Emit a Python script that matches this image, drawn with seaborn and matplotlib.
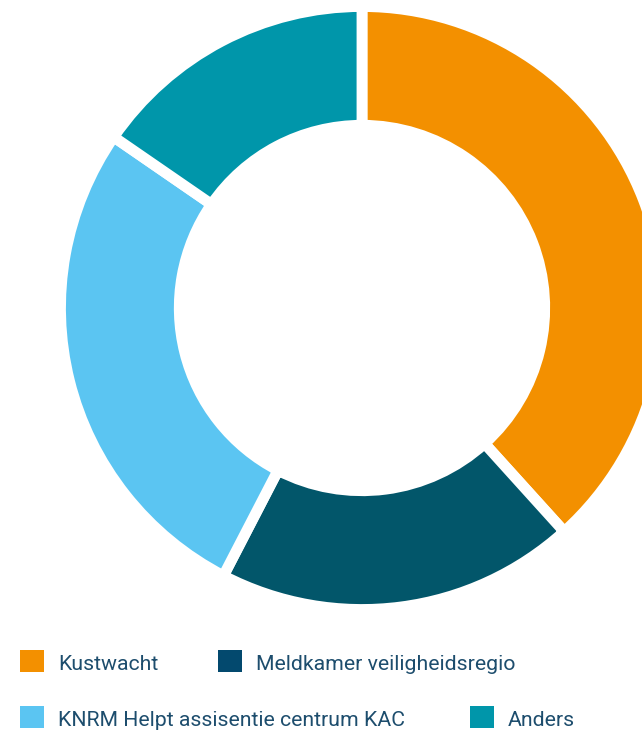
import matplotlib.pyplot as plt
import seaborn as sns
from matplotlib.patches import Rectangle

# data
labels = ['Kustwacht', 'Meldkamer veiligheidsregio',
          'KNRM Helpt assisentie centrum KAC', 'Anders']
values = [38.3, 19.3, 27.0, 15.4]
colors = ['#f39000', '#02566a', '#5bc5f2', '#0096aa']
legend_colors = ['#f39000', '#03496e', '#5bc5f2', '#0096aa']

W, H = 642, 730
text_color = '#1d4d6d'


def main():
    sns.set_theme(style='white')
    plt.rcParams['font.family'] = ['Roboto', 'DejaVu Sans']

    fig = plt.figure(figsize=(W / 100, H / 100), dpi=100)

    # donut: center (362, 308) px, outer radius incl. white stroke
    cx, cy, r = 362, 308, 301.5
    ax = fig.add_axes([(cx - r) / W, (H - cy - r) / H, 2 * r / W, 2 * r / H])
    ax.pie(values, colors=colors, startangle=90, counterclock=False,
           radius=1, wedgeprops=dict(width=0.394, edgecolor='white', linewidth=7.8))
    ax.set_xlim(-1, 1)
    ax.set_ylim(-1, 1)
    ax.set_aspect('equal')
    ax.axis('off')

    # legend (flowing layout like the original)
    entries = [(20, 661), (218, 661), (20, 717), (470, 717)]
    for (x, y), lab, col in zip(entries, labels, legend_colors):
        fig.patches.append(Rectangle((x / W, (H - y - 11) / H), 24 / W, 22 / H,
                                     transform=fig.transFigure, facecolor=col,
                                     edgecolor='none'))
        fig.text((x + 38) / W, (H - y - 3) / H, lab, fontsize=15.3, color=text_color,
                 va='center', ha='left')

    fig.savefig('out.png', dpi=100)
    plt.close(fig)


if __name__ == '__main__':
    main()
